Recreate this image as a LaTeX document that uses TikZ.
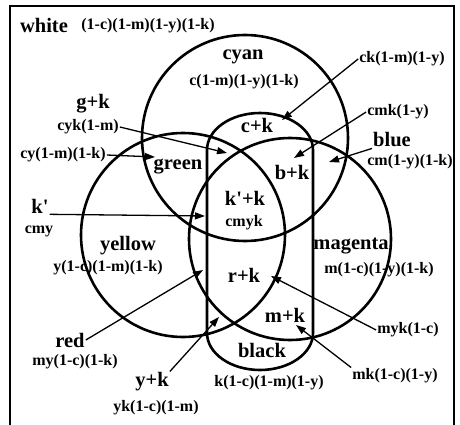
\documentclass[tikz,border=0pt]{standalone}
\usepackage{fontspec}
\setmainfont{Liberation Serif}
\usetikzlibrary{arrows.meta}
\tikzset{
  vnset/.style={line width=2.6pt},
  vnframe/.style={line width=2.8pt},
  vnregion/.style={font=\fontsize{20.5}{22}\selectfont\bfseries, inner sep=1pt},
  vnformula/.style={font=\fontsize{16}{18}\selectfont\bfseries, inner sep=1pt},
  vnarrow/.style={-{Triangle[length=10pt,width=7pt]}, line width=1.3pt}
}
\begin{document}
\begin{tikzpicture}[x=1pt,y=-1pt]
  \useasboundingbox (0,0) rectangle (460,425);
  \draw[vnframe] (10,425) -- (10,6) -- (454,6) -- (454,425);
  % cyan, yellow, magenta and the black band
  \draw[vnset] (245,138) circle[radius=103pt];
  \draw[vnset] (183,235) circle[radius=102pt];
  \draw[vnset] (290,239) circle[radius=101pt];
  \draw[vnset] (207,150) arc[start angle=180,end angle=0,x radius=53pt,y radius=37pt]
    -- (313,333) arc[start angle=0,end angle=-180,x radius=53pt,y radius=37pt] -- cycle;
  % region names and their formulas
  \node[vnregion] (rW) at (44,25) {white};
  \node[vnformula] (fW) at (148,26) {(1-c)(1-m)(1-y)(1-k)};
  \node[vnregion] (rC) at (243,57) {cyan};
  \node[vnformula] (fC) at (244,82) {c(1-m)(1-y)(1-k)};
  \node[vnregion] (rGK) at (93,104) {g+k};
  \node[vnformula] (fGK) at (88,127) {cyk(1-m)};
  \node[vnformula] (fG) at (63,155) {cy(1-m)(1-k)};
  \node[vnregion] (rG) at (178,167) {green};
  \node[vnregion] (rCK) at (257,125) {c+k};
  \node[vnformula] (fCK) at (402,59) {ck(1-m)(1-y)};
  \node[vnformula] (fCMK) at (398,112) {cmk(1-y)};
  \node[vnregion] (rBlue) at (392,140) {blue};
  \node[vnformula] (fBlue) at (410,162) {cm(1-y)(1-k)};
  \node[vnregion] (rBK) at (292,172) {b+k};
  \node[vnregion] (rKp) at (40,206) {k\textquotesingle};
  \node[vnformula] (fKp) at (39,231) {cmy};
  \node[vnregion] (rAll) at (245,198) {k\textquotesingle+k};
  \node[vnformula] (fAll) at (244,223) {cmyk};
  \node[vnregion] (rY) at (128,246) {yellow};
  \node[vnformula] (fY) at (108,268) {y(1-c)(1-m)(1-k)};
  \node[vnregion] (rM) at (351,246) {magenta};
  \node[vnformula] (fM) at (379,270) {m(1-c)(1-y)(1-k)};
  \node[vnregion] (rRK) at (244,275) {r+k};
  \node[vnregion] (rMK) at (285,315) {m+k};
  \node[vnregion] (rK) at (262,350) {black};
  \node[vnformula] (fK) at (269,383) {k(1-c)(1-m)(1-y)};
  \node[vnregion] (rRed) at (70,340) {red};
  \node[vnformula] (fRed) at (75,362) {my(1-c)(1-k)};
  \node[vnregion] (rYK) at (152,382) {y+k};
  \node[vnformula] (fYK) at (156,408) {yk(1-c)(1-m)};
  \node[vnformula] (fMYK) at (408,330) {myk(1-c)};
  \node[vnformula] (fMK) at (395,376) {mk(1-c)(1-y)};
  % arrow tips
  \coordinate (tCK) at (282,120);
  \coordinate (tBK) at (294,158);
  \coordinate (tB) at (329,162);
  \coordinate (tGK) at (227,153);
  \coordinate (tG) at (155,157);
  \coordinate (tKp) at (205,216);
  \coordinate (tR) at (203,270);
  \coordinate (tYK) at (219,317);
  \coordinate (tRK) at (271,276);
  \coordinate (tMK) at (296,325);
  \draw[vnarrow] (fCK.west) -- (tCK);
  \draw[vnarrow] (fCMK.west) -- (tBK);
  \draw[vnarrow] (rBlue.south west) -- (tB);
  \draw[vnarrow] (fGK.east) -- (tGK);
  \draw[vnarrow] (fG.east) -- (tG);
  \draw[vnarrow] (rKp.south east) -- (tKp);
  \draw[vnarrow] (rRed.east) -- (tR);
  \draw[vnarrow] (rYK.north east) -- (tYK);
  \draw[vnarrow] (fMYK.west) -- (tRK);
  \draw[vnarrow] (fMK.north west) -- (tMK);
\end{tikzpicture}
\end{document}
